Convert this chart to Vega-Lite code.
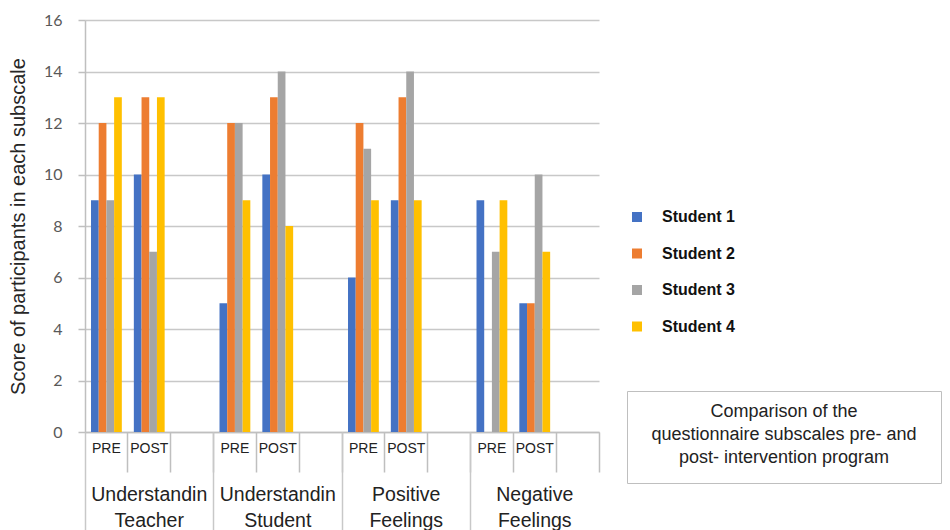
{
  "$schema": "https://vega.github.io/schema/vega-lite/v6.json",
  "width": 514,
  "height": 412,
  "autosize": {"type": "none"},
  "padding": {"left": 85, "top": 20, "right": 351, "bottom": 98},
  "background": "white",
  "config": {"view": {"stroke": null}},
  "data": {
    "values": [
      {"group": "UT", "phase": "PRE", "slot": "UT-PRE", "student": "Student 1", "score": 9},
      {"group": "UT", "phase": "PRE", "slot": "UT-PRE", "student": "Student 2", "score": 12},
      {"group": "UT", "phase": "PRE", "slot": "UT-PRE", "student": "Student 3", "score": 9},
      {"group": "UT", "phase": "PRE", "slot": "UT-PRE", "student": "Student 4", "score": 13},
      {"group": "UT", "phase": "POST", "slot": "UT-POST", "student": "Student 1", "score": 10},
      {"group": "UT", "phase": "POST", "slot": "UT-POST", "student": "Student 2", "score": 13},
      {"group": "UT", "phase": "POST", "slot": "UT-POST", "student": "Student 3", "score": 7},
      {"group": "UT", "phase": "POST", "slot": "UT-POST", "student": "Student 4", "score": 13},
      {"group": "US", "phase": "PRE", "slot": "US-PRE", "student": "Student 1", "score": 5},
      {"group": "US", "phase": "PRE", "slot": "US-PRE", "student": "Student 2", "score": 12},
      {"group": "US", "phase": "PRE", "slot": "US-PRE", "student": "Student 3", "score": 12},
      {"group": "US", "phase": "PRE", "slot": "US-PRE", "student": "Student 4", "score": 9},
      {"group": "US", "phase": "POST", "slot": "US-POST", "student": "Student 1", "score": 10},
      {"group": "US", "phase": "POST", "slot": "US-POST", "student": "Student 2", "score": 13},
      {"group": "US", "phase": "POST", "slot": "US-POST", "student": "Student 3", "score": 14},
      {"group": "US", "phase": "POST", "slot": "US-POST", "student": "Student 4", "score": 8},
      {"group": "PF", "phase": "PRE", "slot": "PF-PRE", "student": "Student 1", "score": 6},
      {"group": "PF", "phase": "PRE", "slot": "PF-PRE", "student": "Student 2", "score": 12},
      {"group": "PF", "phase": "PRE", "slot": "PF-PRE", "student": "Student 3", "score": 11},
      {"group": "PF", "phase": "PRE", "slot": "PF-PRE", "student": "Student 4", "score": 9},
      {"group": "PF", "phase": "POST", "slot": "PF-POST", "student": "Student 1", "score": 9},
      {"group": "PF", "phase": "POST", "slot": "PF-POST", "student": "Student 2", "score": 13},
      {"group": "PF", "phase": "POST", "slot": "PF-POST", "student": "Student 3", "score": 14},
      {"group": "PF", "phase": "POST", "slot": "PF-POST", "student": "Student 4", "score": 9},
      {"group": "NF", "phase": "PRE", "slot": "NF-PRE", "student": "Student 1", "score": 9},
      {"group": "NF", "phase": "PRE", "slot": "NF-PRE", "student": "Student 2", "score": 0},
      {"group": "NF", "phase": "PRE", "slot": "NF-PRE", "student": "Student 3", "score": 7},
      {"group": "NF", "phase": "PRE", "slot": "NF-PRE", "student": "Student 4", "score": 9},
      {"group": "NF", "phase": "POST", "slot": "NF-POST", "student": "Student 1", "score": 5},
      {"group": "NF", "phase": "POST", "slot": "NF-POST", "student": "Student 2", "score": 5},
      {"group": "NF", "phase": "POST", "slot": "NF-POST", "student": "Student 3", "score": 10},
      {"group": "NF", "phase": "POST", "slot": "NF-POST", "student": "Student 4", "score": 7}
    ]
  },
  "layer": [
    {
      "mark": {"type": "bar"},
      "encoding": {
        "x": {
          "field": "slot",
          "type": "nominal",
          "sort": null,
          "scale": {
            "domain": ["UT-PRE", "UT-POST", "UT-X", "US-PRE", "US-POST", "US-X", "PF-PRE", "PF-POST", "PF-X", "NF-PRE", "NF-POST", "NF-X"],
            "paddingInner": 0,
            "paddingOuter": 0
          },
          "axis": {
            "title": null,
            "orient": "bottom",
            "bandPosition": 1,
            "tickSize": 40,
            "tickColor": "#bfbfbf",
            "tickWidth": 1.5,
            "domainColor": "#bfbfbf",
            "domainWidth": 1.5,
            "labelAngle": 0,
            "labelPadding": -31,
            "labelFont": "Liberation Sans",
            "labelFontSize": 14,
            "labelColor": "#222222",
            "labelExpr": "indexof(datum.value, 'POST') >= 0 ? 'POST' : (indexof(datum.value, 'PRE') >= 0 ? 'PRE' : '')"
          }
        },
        "xOffset": {
          "field": "student",
          "type": "nominal",
          "scale": {"paddingInner": 0, "paddingOuter": 0.78}
        },
        "y": {
          "field": "score",
          "type": "quantitative",
          "scale": {"domain": [0, 16], "nice": false},
          "axis": {
            "values": [0, 2, 4, 6, 8, 10, 12, 14, 16],
            "grid": true,
            "gridColor": "#c8c8c8",
            "gridWidth": 1.5,
            "domainColor": "#bfbfbf",
            "domainWidth": 1.5,
            "tickColor": "#bfbfbf",
            "tickWidth": 1.5,
            "tickSize": 7,
            "labelFont": "Lato",
            "labelFontSize": 16,
            "labelColor": "#595959",
            "labelPadding": 16,
            "title": "Score of participants in each subscale",
            "titleFont": "Liberation Sans",
            "titleFontSize": 20,
            "titleFontWeight": "normal",
            "titleColor": "#262626",
            "titlePadding": 15
          }
        },
        "color": {
          "field": "student",
          "type": "nominal",
          "scale": {
            "domain": ["Student 1", "Student 2", "Student 3", "Student 4"],
            "range": ["#4472C4", "#ED7D31", "#A5A5A5", "#FFC000"]
          },
          "legend": {
            "title": null,
            "orient": "none",
            "legendX": 544,
            "legendY": 189,
            "padding": 0,
            "symbolType": "square",
            "symbolSize": 100,
            "symbolStrokeWidth": 0,
            "rowPadding": 20.5,
            "labelOffset": 17,
            "labelFont": "Liberation Sans",
            "labelFontWeight": "bold",
            "labelFontSize": 16,
            "labelColor": "#111111"
          }
        }
      }
    },
    {
      "mark": {"type": "point", "opacity": 0},
      "encoding": {
        "x": {
          "field": "group",
          "type": "nominal",
          "sort": null,
          "scale": {"type": "band", "domain": ["UT", "US", "PF", "NF"], "paddingInner": 0, "paddingOuter": 0},
          "axis": {
            "title": null,
            "orient": "bottom",
            "domain": false,
            "bandPosition": 0,
            "tickSize": 98,
            "tickColor": "#c8c8c8",
            "tickWidth": 1.5,
            "labelAngle": 0,
            "labelPadding": -45,
            "labelFont": "Liberation Sans",
            "labelFontSize": 19.5,
            "labelLineHeight": 26,
            "labelColor": "#222222",
            "labelOverlap": false,
            "labelBound": false,
            "labelExpr": "datum.value == 'UT' ? ['Understandin', 'Teacher'] : datum.value == 'US' ? ['Understandin', 'Student'] : datum.value == 'PF' ? ['Positive', 'Feelings'] : ['Negative', 'Feelings']"
          }
        },
        "y": {"datum": 0, "type": "quantitative"},
        "shape": {
          "field": "group",
          "type": "nominal",
          "legend": {
            "values": ["UT"],
            "orient": "none",
            "legendX": 542,
            "legendY": 371,
            "padding": 12,
            "strokeColor": "#bfbfbf",
            "symbolSize": 0,
            "symbolOpacity": 0,
            "symbolStrokeWidth": 0,
            "labelOffset": 0,
            "labelFontSize": 4,
            "labelOpacity": 0,
            "labelLimit": 1000,
            "labelExpr": "pad('', 143, 'x')",
            "title": ["Comparison of the", "questionnaire subscales pre- and", "post- intervention program"],
            "titleFont": "Liberation Sans",
            "titleFontSize": 18,
            "titleFontWeight": "normal",
            "titleColor": "#222222",
            "titleAlign": "center",
            "titleAnchor": "middle",
            "titleLineHeight": 23,
            "titleLimit": 500,
            "titlePadding": 0
          }
        }
      }
    }
  ],
  "resolve": {"scale": {"x": "independent"}}
}
